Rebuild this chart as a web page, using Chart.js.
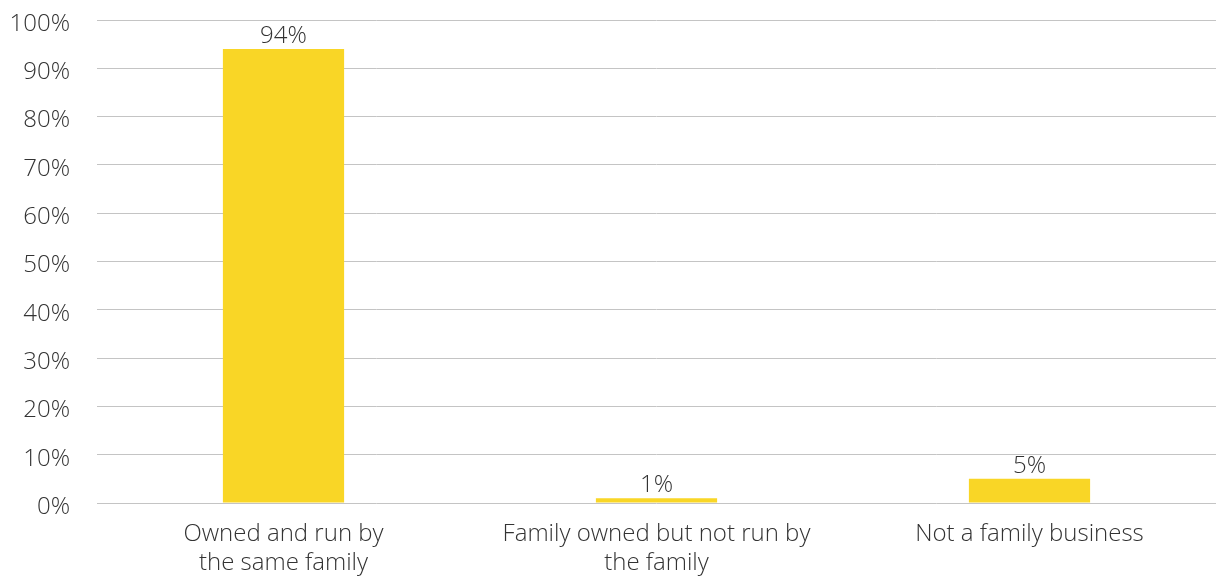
<!DOCTYPE html>
<html>
<head>
<meta charset="utf-8">
<script src="https://cdn.jsdelivr.net/npm/chart.js@4/dist/chart.umd.min.js"></script>
<style>
  html, body { margin: 0; padding: 0; background: #ffffff; }
  #wrap { width: 1221px; height: 579px; position: relative; }
</style>
</head>
<body>
<div id="wrap"><canvas id="chart"></canvas></div>
<script>
// Business ownership categories and their shares (%)
const categories = [
  ["Owned and run by", "the same family"],
  ["Family owned but not run by", "the family"],
  ["Not a family business"]
];
const shares = [94, 1, 5];
const yTicks = [0, 10, 20, 30, 40, 50, 60, 70, 80, 90, 100];

const FONT = "'Open Sans', Lato, sans-serif";
const TEXT = "#333333";
const SIZE = 24;

// Writes each bar's value just above its top edge
const valueLabels = {
  id: "valueLabels",
  afterDatasetsDraw(chart) {
    const { ctx } = chart;
    const meta = chart.getDatasetMeta(0);
    ctx.save();
    ctx.font = "300 " + SIZE + "px " + FONT;
    ctx.fillStyle = TEXT;
    ctx.textAlign = "center";
    ctx.textBaseline = "alphabetic";
    meta.data.forEach((bar, i) => {
      ctx.fillText(shares[i] + "%", bar.x, bar.y - 6);
    });
    ctx.restore();
  }
};

// Fixed axis boxes so the plot edges stay where the layout puts them
const fitXAxis = axis => {
  axis.paddingLeft = 0;
  axis.paddingRight = 0;
  axis.height = 76;
};
const fitYAxis = axis => {
  axis.paddingTop = 0;
  axis.paddingBottom = 0;
  axis.width = 87;
};

new Chart(document.getElementById("chart"), {
  type: "bar",
  data: {
    labels: categories,
    datasets: [{
      data: shares,
      backgroundColor: "#F9D626",
      borderWidth: 0,
      categoryPercentage: 1,
      barPercentage: 0.325
    }]
  },
  options: {
    responsive: true,
    maintainAspectRatio: false,
    animation: false,
    layout: { padding: { top: 20, right: 5, left: 10, bottom: 0 } },
    plugins: { legend: { display: false }, tooltip: { enabled: false } },
    scales: {
      x: {
        afterFit: fitXAxis,
        grid: { display: false, drawTicks: false },
        border: { display: false },
        ticks: {
          color: TEXT,
          font: { family: FONT, size: SIZE, weight: 300, lineHeight: 1.2 },
          padding: 17,
          maxRotation: 0,
          autoSkip: false
        }
      },
      y: {
        min: 0,
        max: 100,
        afterFit: fitYAxis,
        afterBuildTicks(axis) { axis.ticks = yTicks.map(v => ({ value: v })); },
        grid: { color: "#c4c4c4", lineWidth: 1, drawTicks: false },
        border: { display: false },
        ticks: {
          color: TEXT,
          font: { family: FONT, size: SIZE, weight: 300 },
          padding: 27,
          labelOffset: 4,
          callback: v => v + "%"
        }
      }
    }
  },
  plugins: [valueLabels]
});
</script>
</body>
</html>
